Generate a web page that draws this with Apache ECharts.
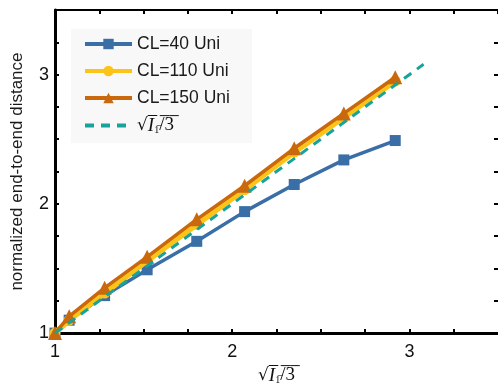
<!DOCTYPE html>
<html>
<head>
<meta charset="utf-8">
<script src="https://cdn.jsdelivr.net/npm/echarts@6/dist/echarts.min.js"></script>
<style>html,body{margin:0;padding:0;background:#fff}#c{width:498px;height:390px}</style>
</head>
<body>
<div id="c"></div>
<script>
const xTicks = [1, 2, 3];
const yTicks = [1, 2, 3];
const xCL = [1, 1.08, 1.28, 1.52, 1.80, 2.07, 2.35, 2.63, 2.92];
const cl40 = [1, 1.10, 1.29, 1.49, 1.71, 1.94, 2.15, 2.34, 2.49];
const cl110 = [1, 1.10, 1.31, 1.56, 1.84, 2.11, 2.40, 2.67, 2.95];
const cl150 = [1, 1.13, 1.35, 1.59, 1.88, 2.14, 2.43, 2.70, 2.98];
const xRef = [1, 3.08];
const yRef = [1, 3.08];
const names = ['CL=40 Uni', 'CL=110 Uni', 'CL=150 Uni', 'sqrt'];

const pair = (xs, ys) => xs.map((x, i) => [x, ys[i]]);
const intFmt = v => (Math.abs(v - Math.round(v)) < 1e-6 && xTicks.indexOf(Math.round(v)) >= 0) ? String(Math.round(v)) : '';
const intFmtY = v => (Math.abs(v - Math.round(v)) < 1e-6 && yTicks.indexOf(Math.round(v)) >= 0) ? String(Math.round(v)) : '';

const labelFont = {fontFamily: '"Liberation Sans Narrow", "Liberation Sans", Arial', fontSize: 18, color: '#111'};
const sqrtRich = {
  r: {fontFamily: '"DejaVu Serif", "Liberation Serif", serif', fontSize: 17, color: '#111'},
  i: {fontFamily: '"Liberation Serif", serif', fontStyle: 'italic', fontSize: 19, color: '#111'},
  s: {fontFamily: '"Liberation Serif", serif', fontSize: 10, color: '#111', verticalAlign: 'bottom', padding: [8, 0, 0, 0]},
  t: {fontFamily: '"Liberation Serif", serif', fontSize: 19, color: '#111'}
};
const sqrtText = '{r|√}{i|I̅}{s|1̅}{t|/̅3̅}';

const chart = echarts.init(document.getElementById('c'), null, {renderer: 'canvas'});
const axisCommon = {
  type: 'value', min: 1, max: 3.5, interval: 0.25,
  splitLine: {show: false},
  axisTick: {show: true, inside: true, length: 4, lineStyle: {color: '#000', width: 2}}
};
chart.setOption({
  animation: false,
  backgroundColor: '#fff',
  grid: {left: 55, right: 0, top: 10, bottom: 49, containLabel: false},
  legend: {
    left: 71, top: 29,
    orient: 'vertical',
    itemWidth: 47, itemHeight: 13, itemGap: 9,
    backgroundColor: '#f8f8f8',
    padding: [6, 22, 8, 12],
    lineStyle: {width: 4},
    data: [names[0], names[1], names[2], {name: names[3], itemStyle: {opacity: 0}}],
    formatter: n => n === 'sqrt' ? sqrtText : n,
    textStyle: {fontFamily: '"Liberation Sans", Arial', fontSize: 17.5, color: '#1a1a1a', rich: sqrtRich}
  },
  xAxis: [
    Object.assign({}, axisCommon, {
      position: 'bottom',
      axisLine: {show: true, onZero: false, lineStyle: {color: '#000', width: 3}},
      axisLabel: {formatter: intFmt, margin: 10, showMaxLabel: false, ...labelFont},
      name: sqrtText, nameLocation: 'middle', nameGap: 24,
      nameTextStyle: {rich: sqrtRich}
    }),
    Object.assign({}, axisCommon, {
      position: 'top',
      axisLine: {show: true, onZero: false, lineStyle: {color: '#000', width: 2}},
      axisLabel: {show: false}
    })
  ],
  yAxis: [
    Object.assign({}, axisCommon, {
      position: 'left',
      axisLine: {show: true, onZero: false, lineStyle: {color: '#000', width: 3}},
      axisLabel: {formatter: intFmtY, margin: 6, showMaxLabel: false, ...labelFont},
      name: 'normalized end-to-end distance', nameLocation: 'middle', nameGap: 29,
      nameTextStyle: {fontFamily: '"Liberation Sans", Arial', fontSize: 17, color: '#1a1a1a'}
    }),
    Object.assign({}, axisCommon, {
      position: 'right',
      axisLine: {show: false, onZero: false},
      axisLabel: {show: false}
    })
  ],
  series: [
    {name: names[0], type: 'line', data: pair(xCL, cl40), symbol: 'rect', symbolSize: 11,
     lineStyle: {color: '#3a6ea6', width: 3.5}, itemStyle: {color: '#3a6ea6'}, z: 2},
    {name: names[1], type: 'line', data: pair(xCL, cl110), symbol: 'circle', symbolSize: 11,
     lineStyle: {color: '#fcc419', width: 5.5}, itemStyle: {color: '#fcc419'}, z: 3},
    {name: names[2], type: 'line', data: pair(xCL, cl150), symbol: 'triangle', symbolSize: 14,
     lineStyle: {color: '#c9680c', width: 3.5}, itemStyle: {color: '#c9680c'}, z: 4},
    {name: names[3], type: 'line', data: pair(xRef, yRef), symbol: 'none',
     lineStyle: {color: '#17a39b', width: 3, type: [9, 7]}, itemStyle: {color: '#17a39b'}, z: 5}
  ]
});
</script>
</body>
</html>
